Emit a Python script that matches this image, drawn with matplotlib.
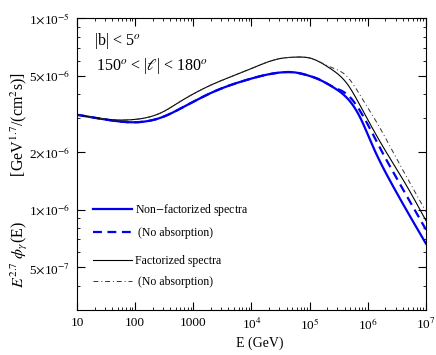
import numpy as np
import matplotlib
matplotlib.use("Agg")
import matplotlib.pyplot as plt
from matplotlib.ticker import FixedLocator, LogLocator, NullFormatter

plt.rcParams['font.family'] = ['Liberation Serif', 'DejaVu Serif']
plt.rcParams['mathtext.fontset'] = 'stix'

# energia (GeV) y flujo E^2.7 phi
e_nf = [10, 30, 100, 300, 545, 2.2e3, 8.3e3, 3.1e4, 5.1e4, 1e5, 1.5e5, 2.5e5, 4.39e5, 7.3e5, 1.24e6, 2.4e6, 1e7]
f_nf = [3.13e-6, 2.96e-6, 2.86e-6, 3.05e-6, 3.32e-6, 4.12e-6, 4.76e-6, 5.20e-6, 5.22e-6, 4.99e-6, 4.76e-6, 4.37e-6, 3.83e-6, 3.05e-6, 2.12e-6, 1.42e-6, 6.65e-7]

e_nf_na = [10, 30, 100, 300, 545, 2.2e3, 8.3e3, 3.1e4, 5.1e4, 1e5, 1.5e5, 2.5e5, 4.39e5, 8.26e5, 1.62e6, 3.3e6, 1e7]
f_nf_na = [3.13e-6, 2.96e-6, 2.86e-6, 3.05e-6, 3.32e-6, 4.12e-6, 4.76e-6, 5.20e-6, 5.22e-6, 4.99e-6, 4.77e-6, 4.38e-6, 4.00e-6, 3.09e-6, 2.10e-6, 1.42e-6, 7.87e-7]

e_f = [10, 49, 100, 300, 545, 2.2e3, 8.3e3, 3.1e4, 6.0e4, 1e5, 2.2e5, 4.39e5, 8.26e5, 1.97e6, 4.35e6, 1e7]
f_f = [3.13e-6, 2.94e-6, 2.96e-6, 3.24e-6, 3.61e-6, 4.53e-6, 5.33e-6, 6.15e-6, 6.26e-6, 6.19e-6, 5.49e-6, 4.55e-6, 3.28e-6, 2.05e-6, 1.38e-6, 8.77e-7]

e_f_na = [10, 49, 100, 300, 545, 2.2e3, 8.3e3, 3.1e4, 6.0e4, 1e5, 2.2e5, 4.39e5, 8.26e5, 1.62e6, 2.71e6, 5.31e6, 1e7]
f_f_na = [3.13e-6, 2.94e-6, 2.96e-6, 3.24e-6, 3.61e-6, 4.53e-6, 5.33e-6, 6.15e-6, 6.26e-6, 6.20e-6, 5.58e-6, 4.96e-6, 3.74e-6, 2.67e-6, 2.00e-6, 1.38e-6, 9.77e-7]

x_ticks = [10, 100, 1000, 1e4, 1e5, 1e6, 1e7]
x_labels = ['10', '100', '1000', r'10$^4$', r'10$^5$', r'10$^6$', r'10$^7$']
y_ticks = [5e-7, 1e-6, 2e-6, 5e-6, 1e-5]
y_labels = [r'5$\times$10$^{-7}$', r'1$\times$10$^{-6}$', r'2$\times$10$^{-6}$',
            r'5$\times$10$^{-6}$', r'1$\times$10$^{-5}$']


def spline(e, f, n=500):
    # spline cubica natural en log-log
    x = np.log10(e)
    y = np.log10(f)
    m = len(x)
    h = np.diff(x)
    A = np.zeros((m, m))
    b = np.zeros(m)
    A[0, 0] = A[-1, -1] = 1
    for i in range(1, m - 1):
        A[i, i - 1] = h[i - 1]
        A[i, i] = 2 * (h[i - 1] + h[i])
        A[i, i + 1] = h[i]
        b[i] = 3 * ((y[i + 1] - y[i]) / h[i] - (y[i] - y[i - 1]) / h[i - 1])
    c = np.linalg.solve(A, b)
    xs = np.linspace(x[0], x[-1], n)
    idx = np.clip(np.searchsorted(x, xs) - 1, 0, m - 2)
    dx = xs - x[idx]
    hi = h[idx]
    bi = (y[idx + 1] - y[idx]) / hi - hi * (2 * c[idx] + c[idx + 1]) / 3
    di = (c[idx + 1] - c[idx]) / (3 * hi)
    ys = y[idx] + bi * dx + c[idx] * dx ** 2 + di * dx ** 3
    return 10 ** xs, 10 ** ys


fig = plt.figure(figsize=(4.36, 3.55), dpi=100)
ax = fig.add_axes([0.1766, 0.127, 0.8004, 0.822])

l1, = ax.plot(*spline(e_nf, f_nf), color='#0000ee', lw=1.6, label='Non$-$factorized spectra')
l2, = ax.plot(*spline(e_nf_na, f_nf_na), color='#0000ee', lw=1.6, ls=(0, (4, 2.5)), label=' (No absorption)')
l3, = ax.plot(*spline(e_f, f_f), color='black', lw=0.8, label='Factorized spectra')
l4, = ax.plot(*spline(e_f_na, f_f_na), color='#333333', lw=0.7, ls=(0, (5, 3, 1, 3)), label=' (No absorption)')

ax.set_xscale('log')
ax.set_yscale('log')
ax.set_xlim(10, 1e7)
ax.set_ylim(3.0e-7, 1e-5)

ax.xaxis.set_major_locator(FixedLocator(x_ticks))
ax.set_xticklabels(x_labels)
ax.xaxis.set_minor_locator(LogLocator(base=10, subs=np.arange(2, 10)))
ax.xaxis.set_minor_formatter(NullFormatter())
ax.yaxis.set_major_locator(FixedLocator(y_ticks))
ax.set_yticklabels(y_labels)
ax.yaxis.set_minor_locator(LogLocator(base=10, subs=np.arange(2, 10)))
ax.yaxis.set_minor_formatter(NullFormatter())

ax.tick_params(which='both', direction='in', top=True, right=True, labelsize=9.5, pad=5)
ax.tick_params(which='major', length=6, width=0.8)
ax.tick_params(which='minor', length=2.5, width=0.6)

ax.set_xlabel('E (GeV)', fontsize=10)
ax.xaxis.set_label_coords(0.524, -0.09)
ax.set_ylabel(r'$E^{2.7}\ \phi_\gamma$(E)$\quad\quad\quad\quad$[GeV$^{1.7}$/(cm$^2$s)]', fontsize=11.5)
ax.yaxis.set_label_coords(-0.135, 0.445)

ax.text(0.05, 0.92, r'|b| < 5$^o$', transform=ax.transAxes, fontsize=11.5, va='center')
ax.text(0.055, 0.835, r'150$^o$ < |$\ell$| < 180$^o$', transform=ax.transAxes, fontsize=11.5, va='center')

leg1 = ax.legend(handles=[l1, l2], loc='upper left', bbox_to_anchor=(0.015, 0.405), frameon=False,
                 fontsize=8.5, handlelength=3.3, labelspacing=0.75, handletextpad=0.3)
ax.add_artist(leg1)
ax.legend(handles=[l3, l4], loc='upper left', bbox_to_anchor=(0.015, 0.225), frameon=False,
          fontsize=8.5, handlelength=3.3, labelspacing=0.75, handletextpad=0.3)

fig.savefig('out.png', dpi=100)
